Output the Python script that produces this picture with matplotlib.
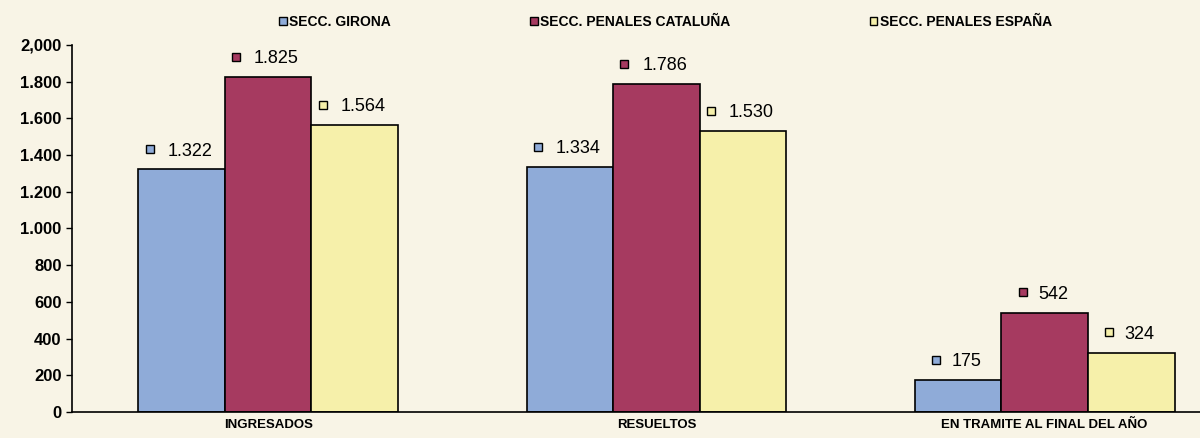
import matplotlib.pyplot as plt
import matplotlib.transforms as mtransforms
from matplotlib.patches import Patch
import numpy as np

CATEGORIES = ["INGRESADOS", "RESUELTOS", "EN TRAMITE AL FINAL DEL AÑO"]
SERIES = ["SECC. GIRONA", "SECC. PENALES CATALUÑA", "SECC. PENALES ESPAÑA"]
GIRONA = [1322, 1334, 175]
CATALUNA = [1825, 1786, 542]
ESPANA = [1564, 1530, 324]
Y_TICKS = [0, 200, 400, 600, 800, 1000, 1200, 1400, 1600, 1800, 2000]
Y_TICK_LABELS = ["0", "200", "400", "600", "800", "1.000", "1.200",
                 "1.400", "1.600", "1.800", "2,000"]

COLORS = ["#8fabd8", "#a63a60", "#f6f0aa"]
BG = "#f8f4e6"

plt.rcParams["font.family"] = ["Liberation Sans", "DejaVu Sans"]

fig = plt.figure(figsize=(12, 4.38), dpi=100, facecolor=BG)
ax = fig.add_axes([0.06, 0.0594, 0.94, 0.838], facecolor=BG)

x = np.arange(len(CATEGORIES))
width = 0.223
values = [GIRONA, CATALUNA, ESPANA]

for i, (vals, color) in enumerate(zip(values, COLORS)):
    pos = x + (i - 1) * width
    ax.bar(pos, vals, width, color=color, edgecolor="black", linewidth=1.2)
    for px, v in zip(pos, vals):
        label = f"{v:,}".replace(",", ".")
        ax.annotate(label, (px, v), xytext=(6, 7), textcoords="offset points",
                    ha="center", va="bottom", fontsize=13)
        off = mtransforms.offset_copy(ax.transData, fig=fig,
                                      x=-5 - 3.6 * len(label), y=14.5, units="points")
        ax.plot([px], [v], marker="s", markersize=6, color=color,
                markeredgecolor="black", markeredgewidth=1.0, transform=off,
                clip_on=False)

ax.set_xlim(-0.505, 2.4)
ax.set_ylim(0, 2000)
ax.set_yticks(Y_TICKS)
ax.set_yticklabels(Y_TICK_LABELS, fontsize=12, fontweight="bold")
ax.set_xticks(x)
ax.set_xticklabels(CATEGORIES, fontsize=9.5, fontweight="bold")
ax.tick_params(axis="x", length=0, pad=5)
ax.tick_params(axis="y", length=4, direction="out", width=1)

for side in ["top", "right"]:
    ax.spines[side].set_visible(False)
ax.spines["left"].set_linewidth(1.2)
ax.spines["bottom"].set_linewidth(1.2)

handles = [Patch(facecolor=c, edgecolor="black", linewidth=1.0) for c in COLORS]
fig.legend(handles, SERIES, loc="center left", bbox_to_anchor=(0.222, 0.95),
           ncol=3, frameon=False, prop={"size": 10, "weight": "bold"},
           handlelength=0.55, handleheight=0.55, handletextpad=0.2,
           columnspacing=10.0)

fig.savefig("out.png", dpi=100, facecolor=BG)
